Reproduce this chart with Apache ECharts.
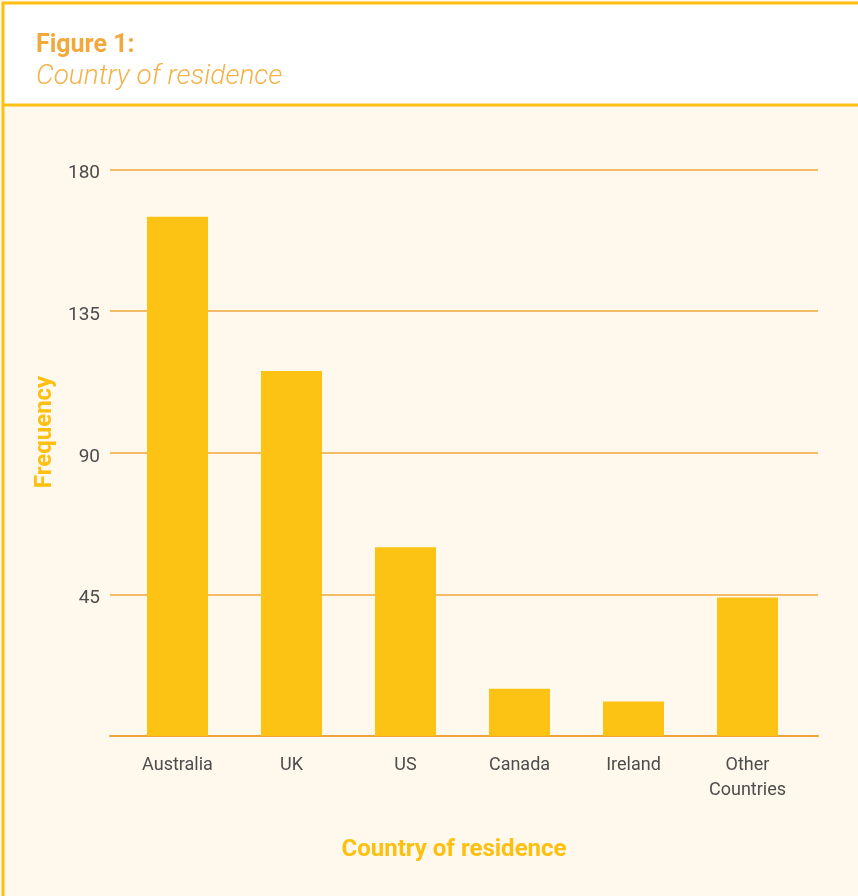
<!DOCTYPE html>
<html>
<head>
<meta charset="utf-8">
<script src="https://cdn.jsdelivr.net/npm/echarts@6/dist/echarts.min.js"></script>
<style>
html,body{margin:0;padding:0;background:#fef8ed;}
#main{width:858px;height:896px;}
</style>
</head>
<body>
<div id="main"></div>
<script>
var categories = ['Australia', 'UK', 'US', 'Canada', 'Ireland', 'Other\nCountries'];
var frequency = [165, 116, 60, 15, 11, 44];
var yTicks = [0, 45, 90, 135, 180];

var FONT = 'Roboto, sans-serif';
var chart = echarts.init(document.getElementById('main'));
chart.setOption({
  backgroundColor: '#fef8ed',
  animation: false,
  graphic: [
    {type: 'rect', shape: {x: 3, y: 3, width: 860, height: 102}, style: {fill: '#ffffff', stroke: '#fdc010', lineWidth: 3}, z: -10},
    {type: 'line', shape: {x1: 3, y1: 105, x2: 3, y2: 900}, style: {stroke: '#fdc010', lineWidth: 3}, z: -10},
    {type: 'text', x: 45, y: 432, rotation: Math.PI / 2,
     style: {text: 'Frequency', fontFamily: FONT, fontSize: 24, fontWeight: 'bold', fill: '#fdc010', align: 'center', verticalAlign: 'middle'}},
    {type: 'text', x: 454, y: 850,
     style: {text: 'Country of residence', fontFamily: FONT, fontSize: 24, fontWeight: 'bold', fill: '#fdc010', align: 'center', verticalAlign: 'middle'}}
  ],
  title: [
    {text: 'Figure 1:', left: 31, top: 28, textStyle: {fontFamily: FONT, fontSize: 25, fontWeight: 'bold', color: '#f2a93b'}},
    {text: 'Country of residence', left: 31, top: 58, textStyle: {fontFamily: FONT, fontSize: 28, fontWeight: 300, fontStyle: 'italic', color: '#f4b24a'}}
  ],
  grid: [
    {left: 110, right: 40, top: 169.5, bottom: 160},
    {left: 120.5, right: 53.5, top: 169.5, bottom: 160}
  ],
  xAxis: [
    {gridIndex: 0, type: 'category', data: categories, show: true,
     axisLine: {lineStyle: {color: '#eea43a', width: 2}}, axisTick: {show: false}, axisLabel: {show: false}},
    {gridIndex: 1, type: 'category', data: categories,
     axisLine: {show: false}, axisTick: {show: false},
     axisLabel: {margin: 17, fontFamily: FONT, fontSize: 18, color: '#4d4d4d', lineHeight: 25}}
  ],
  yAxis: [
    {gridIndex: 0, type: 'value', min: 0, max: 180, interval: 45,
     axisLine: {show: false}, axisTick: {show: false},
     axisLabel: {margin: 10, fontFamily: FONT, fontSize: 19, color: '#4d4d4d', verticalAlign: 'top', lineHeight: 8,
       formatter: function (v) { return yTicks.indexOf(v) > 0 ? String(v) : ''; }},
     splitLine: {lineStyle: {color: '#f0a83c', width: 1.5}}},
    {gridIndex: 1, type: 'value', min: 0, max: 180, interval: 45, show: false, splitLine: {show: false}}
  ],
  series: [{
    type: 'bar', xAxisIndex: 1, yAxisIndex: 1, data: frequency, barWidth: 61,
    itemStyle: {color: '#fdc314'}, z: 5
  }]
});
</script>
</body>
</html>
